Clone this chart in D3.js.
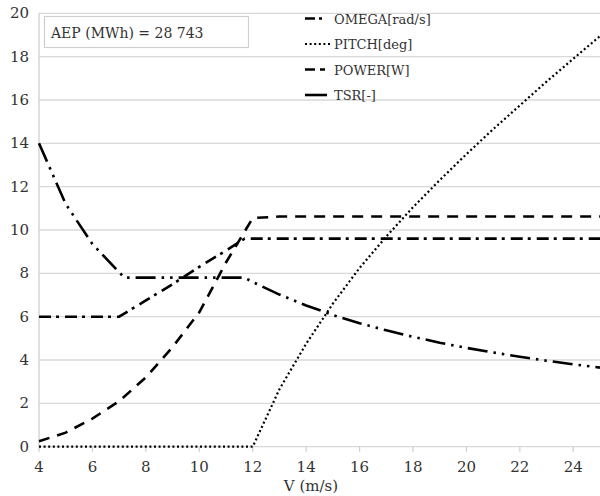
<!DOCTYPE html>
<html>
<head>
<meta charset="utf-8">
<script src="https://cdn.jsdelivr.net/npm/d3@7"></script>
<style>
  body { margin: 0; background: #fff; }
  .grid line { stroke: #d9d9d9; stroke-width: 1.3; }
  .series { fill: none; stroke: #000; stroke-linecap: butt; }
</style>
</head>
<body>
<svg class="chart" width="600" height="496"></svg>
<script>
// wind speed (m/s)
const omegaV = [4, 5, 6, 7, 8, 9, 10, 11, 11.7, 12, 13, 14, 15, 16, 17, 18, 19, 20, 21, 22, 23, 24, 25]
const omega  = [6, 6, 6, 6, 6.75, 7.5, 8.3, 9.05, 9.6, 9.6, 9.6, 9.6, 9.6, 9.6, 9.6, 9.6, 9.6, 9.6, 9.6, 9.6, 9.6, 9.6, 9.6]

const pitchV = [4, 5, 6, 7, 8, 9, 10, 11, 12, 13, 14, 15, 16, 17, 18, 19, 20, 21, 22, 23, 24, 25]
const pitch  = [0, 0, 0, 0, 0, 0, 0, 0, 0, 2.65, 4.75, 6.6, 8.25, 9.7, 11.05, 12.3, 13.5, 14.65, 15.75, 16.85, 17.9, 18.95]

const powerV = [4, 5, 6, 7, 8, 9, 10, 11, 12, 13, 14, 15, 16, 17, 18, 19, 20, 21, 22, 23, 24, 25]
const power  = [0.25, 0.65, 1.3, 2.1, 3.2, 4.6, 6.2, 8.5, 10.55, 10.62, 10.62, 10.62, 10.62, 10.62, 10.62, 10.62, 10.62, 10.62, 10.62, 10.62, 10.62, 10.62]

const tsrV = [4, 5, 6, 7, 7.2, 8, 9, 10, 11, 11.7, 12, 13, 14, 15, 16, 17, 18, 19, 20, 21, 22, 23, 24, 25]
const tsr  = [14, 11.2, 9.35, 8.05, 7.8, 7.8, 7.8, 7.8, 7.8, 7.8, 7.6, 7.02, 6.52, 6.08, 5.7, 5.37, 5.07, 4.8, 4.56, 4.35, 4.15, 3.97, 3.8, 3.65]

const xTicks = [4, 6, 8, 10, 12, 14, 16, 18, 20, 22, 24]
const yTicks = [0, 2, 4, 6, 8, 10, 12, 14, 16, 18, 20]

const seriesNames = ["OMEGA[rad/s]", "PITCH[deg]", "POWER[W]", "TSR[-]"]
const aepLabel = "AEP (MWh) = 28 743"

const series = [
  { name: seriesNames[0], xs: omegaV, ys: omega, dash: "12,5,3,6", width: 2.6 },
  { name: seriesNames[1], xs: pitchV, ys: pitch, dash: "2,2.6", width: 2.2 },
  { name: seriesNames[2], xs: powerV, ys: power, dash: "11,8", width: 2.6 },
  { name: seriesNames[3], xs: tsrV, ys: tsr, dash: "20,6,2.5,6,2.5,6", width: 2.6 }
]

const font = "DejaVu Serif"

const svg = d3.select("svg.chart")

const x = d3.scaleLinear().domain([4, 25]).range([39, 600])
const y = d3.scaleLinear().domain([0, 20]).range([446.7, 13.3])

// horizontal gridlines
svg.append("g")
  .attr("class", "grid")
  .selectAll("line")
  .data(yTicks)
  .enter()
  .append("line")
  .attr("x1", x(4))
  .attr("x2", x(25))
  .attr("y1", d => y(d))
  .attr("y2", d => y(d))

// left axis line
svg.append("line")
  .attr("x1", x(4)).attr("x2", x(4))
  .attr("y1", y(20)).attr("y2", y(0))
  .attr("stroke", "#d0d0d0").attr("stroke-width", 1.3)

// x tick marks
svg.append("g")
  .selectAll("line")
  .data(xTicks)
  .enter()
  .append("line")
  .attr("x1", d => x(d)).attr("x2", d => x(d))
  .attr("y1", y(0)).attr("y2", y(0) + 5)
  .attr("stroke", "#d0d0d0").attr("stroke-width", 1.3)

// tick labels
svg.append("g")
  .selectAll("text")
  .data(yTicks)
  .enter()
  .append("text")
  .attr("x", 29)
  .attr("y", d => y(d) + 5)
  .attr("text-anchor", "end")
  .style("font-family", font)
  .style("font-size", "15px")
  .attr("fill", "#333")
  .text(d => d)

svg.append("g")
  .selectAll("text")
  .data(xTicks)
  .enter()
  .append("text")
  .attr("x", d => x(d))
  .attr("y", 472)
  .attr("text-anchor", "middle")
  .style("font-family", font)
  .style("font-size", "15px")
  .attr("fill", "#333")
  .text(d => d)

svg.append("text")
  .attr("x", 311)
  .attr("y", 491)
  .attr("text-anchor", "middle")
  .style("font-family", font)
  .style("font-size", "15px")
  .attr("fill", "#333")
  .text("V (m/s)")

// series lines
const line = d3.line()
  .x(d => x(d[0]))
  .y(d => y(d[1]))

svg.append("g")
  .selectAll("path")
  .data(series)
  .enter()
  .append("path")
  .attr("class", "series")
  .attr("stroke-width", d => d.width)
  .attr("stroke-dasharray", d => d.dash)
  .attr("d", d => line(d.xs.map((v, i) => [v, d.ys[i]])))

// AEP box
svg.append("rect")
  .attr("x", 44.5).attr("y", 16.5)
  .attr("width", 204).attr("height", 31)
  .attr("fill", "#fff")
  .attr("stroke", "#cfcfcf")
  .attr("stroke-width", 1.2)

svg.append("text")
  .attr("x", 51)
  .attr("y", 38)
  .style("font-family", font)
  .style("font-size", "14px")
  .attr("fill", "#333")
  .text(aepLabel)

// legend
const legend = svg.append("g")
  .selectAll("g")
  .data(series)
  .enter()
  .append("g")
  .attr("transform", (d, i) => `translate(305, ${18.5 + i * 25.5})`)

legend.append("line")
  .attr("class", "series")
  .attr("x1", 0).attr("x2", 27)
  .attr("y1", 0).attr("y2", 0)
  .attr("stroke-width", d => d.width)
  .attr("stroke-dasharray", (d, i) => ["10,4,3,20", "2,2.6", "10,5,5,10", "22,10"][i])

legend.append("text")
  .attr("x", 29)
  .attr("y", 5)
  .style("font-family", font)
  .style("font-size", "13px")
  .attr("fill", "#333")
  .text(d => d.name)
</script>
</body>
</html>
